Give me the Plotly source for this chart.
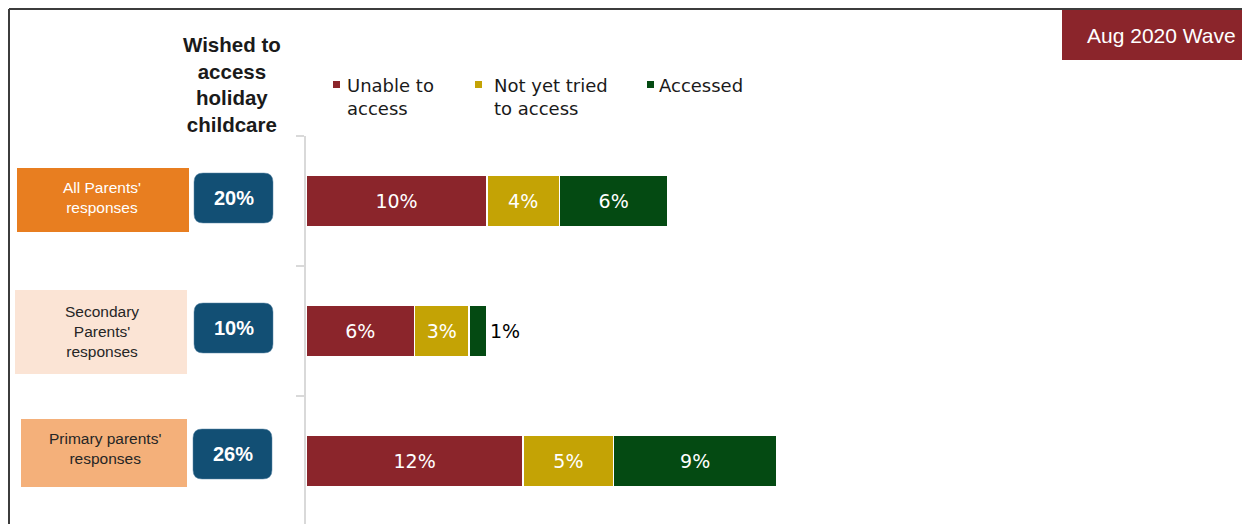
import plotly.graph_objects as go

# ---------------- data ----------------
categories = ["All Parents' responses", "Secondary Parents' responses", "Primary parents' responses"]
category_labels = ["All Parents'<br>responses", "Secondary<br>Parents'<br>responses", "Primary parents'<br>responses"]
series_names = ["Unable to<br>access", "Not yet tried<br>to access", "Accessed"]
unable = [10, 6, 12]
not_yet = [4, 3, 5]
accessed = [6, 1, 9]
wished_totals = ["20%", "10%", "26%"]
header_text = "Wished to<br>access<br>holiday<br>childcare"
badge_text = "Aug 2020 Wave"

# ---------------- styling / layout ----------------
OFF = 8  # page body margin offset (screen px = figure px + OFF)
W, H = 1250 - OFF, 524 - OFF
ML, MR, MT, MB = 306 - OFF, 0, 136 - OFF, 0
PW, PH = W - ML - MR, H - MT - MB
PX_PER_PCT = 18.1

colors = ["#8B252B", "#C4A305", "#044A12"]
label_fills = ["#E87E20", "#FBE4D5", "#F4B07A"]
label_text_colors = ["#FFFFFF", "#262626", "#262626"]
blue = "#124F74"


def px(xp):  # screen pixel -> paper x
    return (xp - OFF - ML) / PW


def py(yp):  # screen pixel -> paper y
    return 1 - (yp - OFF - MT) / PH


fig = go.Figure()
series = [unable, not_yet, accessed]
for i, (name, vals) in enumerate(zip(series_names, series)):
    if i == 2:
        tpos = ["inside" if v >= 2 else "outside" for v in vals]
    else:
        tpos = "inside"
    fig.add_trace(go.Bar(
        y=categories, x=vals, orientation="h", name=name,
        marker=dict(color=colors[i], line=dict(color="white", width=1.5)),
        texttemplate="%{x}%", textposition=tpos, insidetextanchor="middle",
        textangle=0, constraintext="none",
        insidetextfont=dict(family="DejaVu Sans", size=19, color="white"),
        outsidetextfont=dict(family="DejaVu Sans", size=19, color="black"),
        showlegend=False, cliponaxis=False,
    ))

shapes = []
annotations = []

# outer frame (top and left edges visible)
shapes.append(dict(type="line", xref="paper", yref="paper", x0=px(9), x1=px(1252), y0=py(9), y1=py(9),
                   line=dict(color="#3C3C3C", width=2)))
shapes.append(dict(type="line", xref="paper", yref="paper", x0=px(9), x1=px(9), y0=py(9), y1=py(530),
                   line=dict(color="#3C3C3C", width=2)))

# badge
shapes.append(dict(type="rect", xref="paper", yref="paper", x0=px(1062), x1=px(1252), y0=py(10), y1=py(60),
                   fillcolor="#8B252B", line=dict(width=0)))
annotations.append(dict(xref="paper", yref="paper", x=px(1161), y=py(35), text=badge_text, showarrow=False,
                        font=dict(family="Liberation Sans, Arial", size=21, color="white"),
                        xanchor="center", yanchor="middle"))

# header
annotations.append(dict(xref="paper", yref="paper", x=px(232), y=py(84), text="<b>" + header_text + "</b>",
                        showarrow=False, align="center",
                        font=dict(family="Liberation Sans, Arial", size=20.5, color="#1A1A1A"),
                        xanchor="center", yanchor="middle"))

# legend (built from series names/colors)
legend_sq_x = [333, 475, 647]
legend_txt_x = [345, 492, 657]
for i, name in enumerate(series_names):
    shapes.append(dict(type="rect", xref="paper", yref="paper", x0=px(legend_sq_x[i]), x1=px(legend_sq_x[i] + 7),
                       y0=py(81), y1=py(88), fillcolor=colors[i], line=dict(width=0)))
    nlines = name.count("<br>") + 1
    annotations.append(dict(xref="paper", yref="paper", x=px(legend_txt_x[i]),
                            y=py(85 + (nlines - 1) * 23.4 / 2), text=name, showarrow=False, align="left",
                            font=dict(family="DejaVu Sans", size=18, color="#1A1A1A"),
                            xanchor="left", yanchor="middle"))

# row label boxes (screen pixel positions)
label_boxes = [(17, 189, 168, 232), (15, 187, 290, 374), (21, 187, 419, 487)]
label_text_pos = [(102, 197), (102, 331), (105, 448)]
blue_boxes = [(194, 273, 173, 223), (194, 273, 303, 353), (193, 272, 429, 479)]


def rounded(x0, x1, y0, y1, r):
    rx, ry = r / PW, r / PH
    X0, X1, Y0, Y1 = px(x0), px(x1), py(y1), py(y0)  # Y0 bottom, Y1 top
    return (f"M {X0+rx},{Y1} L {X1-rx},{Y1} Q {X1},{Y1} {X1},{Y1-ry} "
            f"L {X1},{Y0+ry} Q {X1},{Y0} {X1-rx},{Y0} L {X0+rx},{Y0} "
            f"Q {X0},{Y0} {X0},{Y0+ry} L {X0},{Y1-ry} Q {X0},{Y1} {X0+rx},{Y1} Z")


for i, cat in enumerate(categories):
    x0, x1, y0, y1 = label_boxes[i]
    shapes.append(dict(type="rect", xref="paper", yref="paper", x0=px(x0), x1=px(x1), y0=py(y1), y1=py(y0),
                       fillcolor=label_fills[i], line=dict(width=0), layer="below"))
    tx, ty = label_text_pos[i]
    annotations.append(dict(xref="paper", yref="paper", x=px(tx), y=py(ty), text=category_labels[i],
                            showarrow=False, align="center",
                            font=dict(family="Liberation Sans, Arial", size=15.5, color=label_text_colors[i]),
                            xanchor="center", yanchor="middle"))
    bx0, bx1, by0, by1 = blue_boxes[i]
    shapes.append(dict(type="path", xref="paper", yref="paper", path=rounded(bx0, bx1, by0, by1, 9),
                       fillcolor=blue, line=dict(color="#5A86A6", width=0.5)))
    annotations.append(dict(xref="paper", yref="paper", x=px((bx0 + bx1) / 2), y=py((by0 + by1) / 2),
                            text="<b>" + wished_totals[i] + "</b>", showarrow=False,
                            font=dict(family="Liberation Sans, Arial", size=20, color="white"),
                            xanchor="center", yanchor="middle"))

fig.update_layout(
    width=W, height=H, margin=dict(l=ML, r=MR, t=MT, b=MB, pad=0),
    paper_bgcolor="white", plot_bgcolor="white",
    barmode="stack", bargap=0.605,
    shapes=shapes, annotations=annotations,
    xaxis=dict(range=[0, PW / PX_PER_PCT], visible=False, fixedrange=True),
    yaxis=dict(type="category", range=[2.485, -0.5], showticklabels=False, showgrid=False, zeroline=False,
               showline=True, linecolor="#D9D9D9", linewidth=1.5, ticks="outside", tickson="boundaries",
               ticklen=8, tickcolor="#D9D9D9", tickwidth=1.5, fixedrange=True),
    font=dict(family="Liberation Sans, Arial"),
)

fig.write_html("out.html")
